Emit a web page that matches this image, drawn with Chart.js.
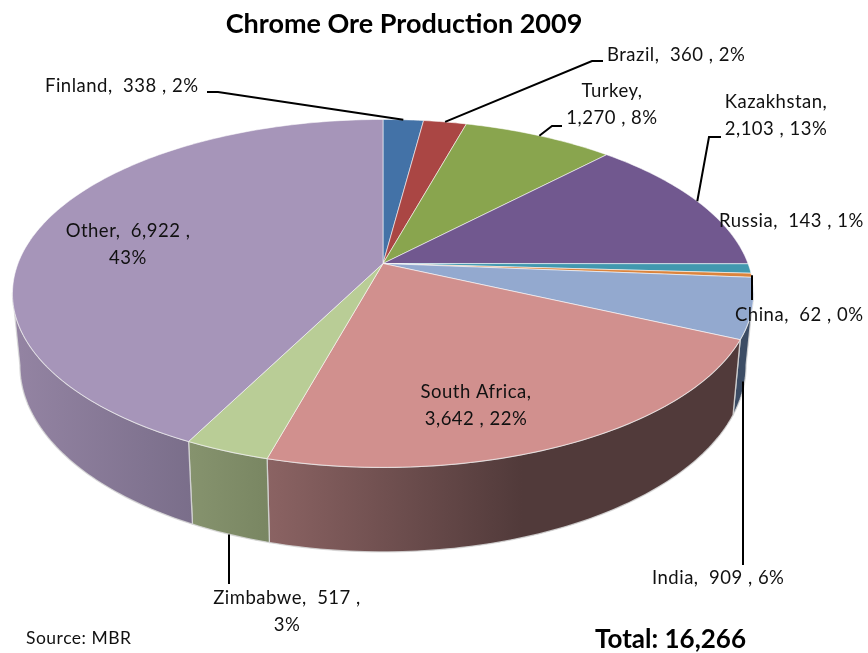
<!DOCTYPE html>
<html>
<head>
<meta charset="utf-8">
<title>Chrome Ore Production 2009</title>
<style>
    html, body { margin: 0; padding: 0; background: #fff; }
    #wrap { width: 868px; height: 653px; }
</style>
<script src="https://cdn.jsdelivr.net/npm/chart.js@4/dist/chart.umd.min.js"></script>
</head>
<body>
<div id="wrap"><canvas id="pie" width="868" height="653"></canvas></div>
<script>
const countries = ['Finland', 'Brazil', 'Turkey', 'Kazakhstan', 'Russia', 'China', 'India', 'South Africa', 'Zimbabwe', 'Other'];
const production = [338, 360, 1270, 2103, 143, 62, 909, 3642, 517, 6922];
const chartTitle = 'Chrome Ore Production 2009';
const sourceNote = 'Source: MBR';
const totalNote = 'Total: 16,266';

// Colours of the top face and of the side wall (left to right)
const faceColors = ['#4372a7', '#aa4644', '#89a54e', '#71588f', '#4198af', '#db843d', '#93a9cf', '#d1908e', '#b9cd96', '#a695b9'];
const wallColors = [
    ['#2f5175', '#2f5175'], ['#773130', '#773130'], ['#607337', '#607337'], ['#4f3e64', '#4f3e64'],
    ['#2e6a7b', '#2e6a7b'], ['#995c2b', '#995c2b'], ['#3c4c64', '#3c4c64'],
    ['#8b6363', '#513a3a'], ['#86936e', '#798662'], ['#9484a3', '#7a6e8a']
];

// Where each label goes: text position, line break, elbow of the leader line
const labelLayout = [
    { x: 45, y: 86, align: 'left', elbow: [[218, 92], [207, 92]], anchor: 'top' },
    { x: 607, y: 55, align: 'left', elbow: [[592, 61], [603, 61]], anchor: 'top' },
    { x: 612, y: 91, align: 'center', breakAfter: 'name', elbow: [[552, 126], [562, 126]], anchor: 'top' },
    { x: 776, y: 102, align: 'center', breakAfter: 'name', elbow: [[709, 137], [721, 137]], anchor: 'top' },
    { x: 719, y: 221, align: 'left' },
    { x: 735, y: 315, align: 'left', drop: { x: 752, y: 300 }, anchor: 'top' },
    { x: 652, y: 578, align: 'left', drop: { x: 743, y: 565 }, anchor: 'bottom' },
    { x: 476, y: 392, align: 'center', breakAfter: 'name' },
    { x: 287, y: 598, align: 'center', breakAfter: 'value', drop: { x: 229, y: 584 }, anchor: 'bottom' },
    { x: 128, y: 231, align: 'center', breakAfter: 'value' }
];

// Flattened disc seen from above: perspective and thickness
const tilt = { depthK: 0.172, minorAxis: 168.8, wall: 70, shrink: 0.98 };
const FONT_FAMILY = 'Lato, "Open Sans", sans-serif';

function project(el, angle, bottom) {
    const t = angle + Math.PI / 2;
    const w = 1 + tilt.depthK * Math.cos(t);
    let x = el.x + el.outerRadius * Math.sin(t) / w;
    let y = el.y - tilt.minorAxis * Math.cos(t) / w;
    if (bottom) {
        x = el.x + (x - el.x) * tilt.shrink;
        y += tilt.wall / w;
    }
    return { x, y };
}

function sampleAngles(start, end) {
    const steps = Math.max(2, Math.ceil((end - start) / (Math.PI / 180)));
    const out = [];
    for (let i = 0; i <= steps; i++) out.push(start + (end - start) * i / steps);
    return out;
}

class Pie3dController extends Chart.PieController {
    draw() {
        const ctx = this.chart.ctx;
        const arcs = this._cachedMeta.data;
        ctx.save();
        ctx.lineJoin = 'round';

        // Side walls, only the front part of the disc shows them
        const frontStart = 0.17;
        const frontEnd = Math.PI - 0.17;
        arcs.forEach((el, i) => {
            const start = Math.max(el.startAngle, frontStart);
            const end = Math.min(el.endAngle, frontEnd);
            if (end <= start) return;
            const angles = sampleAngles(start, end);
            const tops = angles.map(a => project(el, a, false));
            const bottoms = angles.map(a => project(el, a, true)).reverse();
            const pts = tops.concat(bottoms);
            const xs = pts.map(p => p.x);
            const grad = ctx.createLinearGradient(Math.min(...xs), 0, Math.max(...xs), 0);
            grad.addColorStop(0, wallColors[i][0]);
            grad.addColorStop(i === 7 ? 0.54 : 1, wallColors[i][1]);
            grad.addColorStop(1, wallColors[i][1]);
            ctx.beginPath();
            pts.forEach((p, n) => n ? ctx.lineTo(p.x, p.y) : ctx.moveTo(p.x, p.y));
            ctx.closePath();
            ctx.fillStyle = grad;
            ctx.fill();
            ctx.strokeStyle = 'rgba(215,215,215,0.85)';
            ctx.lineWidth = 1.3;
            ctx.stroke();
        });

        // Top faces
        arcs.forEach(el => {
            ctx.beginPath();
            ctx.moveTo(el.x, el.y);
            sampleAngles(el.startAngle, el.endAngle).forEach(a => {
                const p = project(el, a, false);
                ctx.lineTo(p.x, p.y);
            });
            ctx.closePath();
            ctx.fillStyle = el.options.backgroundColor;
            ctx.fill();
            ctx.strokeStyle = 'rgba(255,255,255,0.55)';
            ctx.lineWidth = 1;
            ctx.stroke();
        });
        ctx.restore();
    }
}
Pie3dController.id = 'pie3d';
Pie3dController.defaults = Chart.PieController.defaults;
Chart.register(Pie3dController);

function labelLines(i) {
    const total = production.reduce((a, b) => a + b, 0);
    const name = countries[i] + ',';
    const value = production[i].toLocaleString('en-US');
    const pct = Math.round(production[i] / total * 100) + '%';
    const mode = labelLayout[i].breakAfter;
    if (mode === 'name') return [name, value + ' , ' + pct];
    if (mode === 'value') return [name + '  ' + value + ' ,', pct];
    return [name + '  ' + value + ' , ' + pct];
}

const notesPlugin = {
    id: 'notes',
    afterDraw(chart) {
        const ctx = chart.ctx;
        const arcs = chart.getDatasetMeta(0).data;
        ctx.save();
        ctx.textBaseline = 'middle';

        // Leader lines start on the rim at the middle of their slice
        ctx.strokeStyle = '#000';
        ctx.lineWidth = 2;
        labelLayout.forEach((lay, i) => {
            if (!lay.elbow && !lay.drop) return;
            const el = arcs[i];
            const start = project(el, (el.startAngle + el.endAngle) / 2, lay.anchor === 'bottom');
            ctx.beginPath();
            if (lay.drop) {
                ctx.moveTo(lay.drop.x, start.y);
                ctx.lineTo(lay.drop.x, lay.drop.y);
            } else {
                ctx.moveTo(start.x, start.y);
                lay.elbow.forEach(p => ctx.lineTo(p[0], p[1]));
            }
            ctx.stroke();
        });

        ctx.fillStyle = '#111';
        ctx.font = '18.5px ' + FONT_FAMILY;
        ctx.letterSpacing = '0.5px';
        labelLayout.forEach((lay, i) => {
            ctx.textAlign = lay.align;
            labelLines(i).forEach((line, n) => ctx.fillText(line, lay.x, lay.y + n * 27));
        });

        ctx.textAlign = 'left';
        ctx.font = '17.5px ' + FONT_FAMILY;
        ctx.fillText(sourceNote, 26, 638);
        ctx.fillStyle = '#000';
        ctx.letterSpacing = '0px';
        ctx.font = 'bold 26px ' + FONT_FAMILY;
        ctx.fillText(totalNote, 595, 640);
        ctx.textAlign = 'center';
        ctx.font = 'bold 27px ' + FONT_FAMILY;
        ctx.fillText(chartTitle, 404, 24);
        ctx.restore();
    }
};

new Chart(document.getElementById('pie'), {
    type: 'pie3d',
    data: {
        labels: countries,
        datasets: [{
            data: production,
            backgroundColor: faceColors,
            borderWidth: 0,
            clip: false
        }]
    },
    options: {
        responsive: false,
        animation: false,
        events: [],
        radius: 365,
        layout: { padding: { right: 102, bottom: 126 } },
        plugins: { legend: { display: false }, tooltip: { enabled: false }, title: { display: false } }
    },
    plugins: [notesPlugin]
});
</script>
</body>
</html>
